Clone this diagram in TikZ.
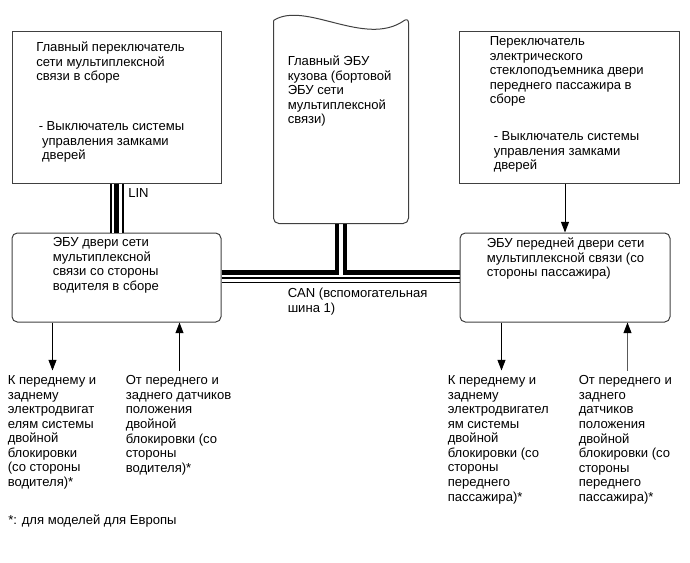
\documentclass[tikz,border=0pt]{standalone}
\usepackage{fontspec}
\setmainfont{Liberation Sans}
\usetikzlibrary{arrows.meta, positioning, calc}

\begin{document}
\begin{tikzpicture}[
    x=0.75pt, y=-0.75pt,
    font=\fontsize{9.8}{10.9}\selectfont,
    box/.style={
        draw=black!75,
        line width=0.75pt,
        minimum width=156.75pt,
        minimum height=114pt,
        inner sep=0pt
    },
    ecu/.style={
        box,
        rounded corners=4pt,
        minimum height=66.75pt
    },
    txt/.style={
        anchor=north west,
        align=left,
        inner sep=0pt
    },
    arrow/.style={
        -{Triangle[length=8pt, width=6pt]},
        line width=0.75pt,
        draw=black
    },
    linouter/.style={
        draw=black,
        line width=1.5pt,
        double=white,
        double distance=7.5pt
    },
    lincore/.style={
        draw=black,
        line width=3.75pt
    },
    canwire/.style={
        draw=black,
        line width=3.2pt,
        line join=miter
    },
    canthin/.style={
        draw=black,
        line width=1.1pt
    }
]
\useasboundingbox (0,0) rectangle (690,562);

% Nodes
\node (lsw) [box] at (116.5,107) {};
\node (rsw) [box, minimum width=165pt] at (569,107) {};
\node (bcm) [box, draw=none, minimum width=100.5pt, minimum height=151.5pt] at (341,122) {};
\node (lecu) [ecu] at (116.5,277.5) {};
\node (recu) [ecu, minimum width=157.5pt] at (565,277.5) {};

% body ECU outline with wavy top
\draw [draw=black!75, line width=0.75pt, rounded corners=4pt]
    (bcm.north west) -- (bcm.south west) -- (bcm.south east) -- ([yshift=2.25pt]bcm.north east)
    [sharp corners] .. controls (365,48) and (305,0) .. (bcm.north west);

% Texts
\node (lswa) [txt] at ([shift={(24.5,11)}]lsw.north west) {Главный переключатель\\сети мультиплексной\\связи в сборе};
\node (lswb) [txt] at ([shift={(27,91)}]lsw.north west) {- Выключатель системы\\\hspace*{2.5pt}управления замками\\\hspace*{2.5pt}дверей};
\node (rswa) [txt] at ([shift={(31,6)}]rsw.north west) {Переключатель\\электрического\\стеклоподъемника двери\\переднего пассажира в\\сборе};
\node (rswb) [txt] at ([shift={(35,101)}]rsw.north west) {- Выключатель системы\\управления замками\\дверей};
\node (bcmt) [txt] at ([shift={(14,35)}]bcm.north west) {Главный ЭБУ\\кузова (бортовой\\ЭБУ сети\\мультиплексной\\связи)};
\node (lecut) [txt] at ([shift={(41,5)}]lecu.north west) {ЭБУ двери сети\\мультиплексной\\связи со стороны\\водителя в сборе};
\node (recut) [txt] at ([shift={(27,5)}]recu.north west) {ЭБУ передней двери сети\\мультиплексной связи (со\\стороны пассажира)};
\node (ldm) [txt] at ([shift={(-4,53)}]lecu.south west) {К переднему и\\заднему\\электродвигат\\елям системы\\двойной\\блокировки\\(со стороны\\водителя)*};
\node (lds) [txt] at ([shift={(114,53)}]lecu.south west) {От переднего и\\заднего датчиков\\положения\\двойной\\блокировки (со\\стороны\\водителя)*};
\node (rdm) [txt] at ([shift={(-12,53)}]recu.south west) {К переднему и\\заднему\\электродвигател\\ям системы\\двойной\\блокировки (со\\стороны\\переднего\\пассажира)*};
\node (rds) [txt] at ([shift={(119,53)}]recu.south west) {От переднего и\\заднего\\датчиков\\положения\\двойной\\блокировки (со\\стороны\\переднего\\пассажира)*};
\node (lin) [txt] at ([shift={(11.5,5)}]lsw.south) {LIN};
\node (can) [txt] at ([shift={(66,10.5)}]lecu.east) {CAN (вспомогательная\\шина 1)};
\node (note) [txt] at (8,515) {*: для моделей для Европы};

% Coordinates for the signal lines
\coordinate (ldmin) at ([xshift=30.75pt]lecu.south west);
\coordinate (ldsin) at ([xshift=126pt]lecu.south west);
\coordinate (rdmin) at ([xshift=31.5pt]recu.south west);
\coordinate (rdsin) at ([xshift=126pt]recu.south west);
\coordinate (canl) at ([yshift=3.75pt]lecu.east);
\coordinate (canr) at ([yshift=3.75pt]recu.west);

% Buses
\draw [linouter] (lsw.south) -- (lecu.north);
\draw [lincore] (lsw.south) -- (lecu.north);
\draw [canwire] (canl) -| ([xshift=-3pt]bcm.south);
\draw [canwire] (canr) -| ([xshift=3pt]bcm.south);
\draw [canthin] ([yshift=-0.4pt]lecu.east) -- ([yshift=-0.4pt]recu.west);
\draw [canthin] ([yshift=-3.75pt]lecu.east) -- ([yshift=-3.75pt]recu.west);

% Paths
\draw [arrow] (recu.north |- rsw.south) -- (recu.north);
\draw [arrow, shorten >=3.75pt] (ldmin) -- (ldmin |- ldm.north);
\draw [arrow, shorten <=3.75pt] (ldsin |- lds.north) -- (ldsin);
\draw [arrow, shorten >=3.75pt] (rdmin) -- (rdmin |- rdm.north);
\draw [arrow, draw=black!65, -{Triangle[length=8pt, width=6pt, color=black]}, shorten <=3.75pt] (rdsin |- rds.north) -- (rdsin);

\end{tikzpicture}
\end{document}
